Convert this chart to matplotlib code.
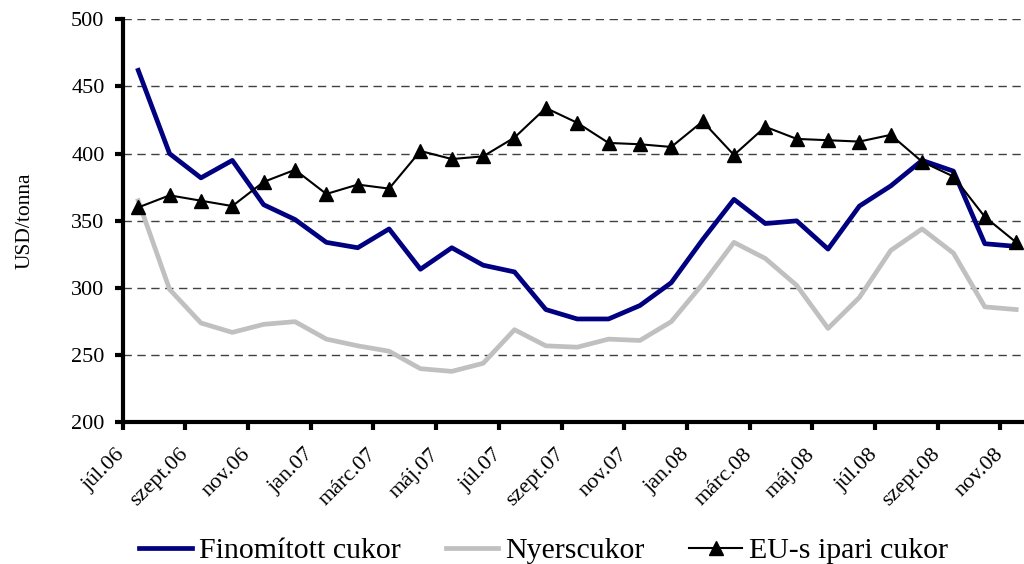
import numpy as np
import matplotlib.pyplot as plt

plt.rcParams['font.family'] = ['Liberation Serif', 'DejaVu Serif']

# havi adatok, júl.06 - nov.08
finomitott = [462, 400, 382, 395, 362, 351, 334, 330, 344, 314, 330, 317, 312, 284, 277,
              277, 287, 304, 336, 366, 348, 350, 329, 361, 376, 395, 387, 333, 331]
nyers = [365, 299, 274, 267, 273, 275, 262, 257, 253, 240, 238, 244, 269, 257, 256,
         262, 261, 275, 303, 334, 322, 302, 270, 293, 328, 344, 326, 286, 284]
eu_ipari = [360, 369, 365, 361, 379, 388, 370, 377, 374, 402, 396, 398, 412, 434, 423,
            408, 407, 405, 424, 399, 420, 411, 410, 409, 414, 394, 383, 353, 334]
tick_labels = ['júl.06', 'szept.06', 'nov.06', 'jan.07', 'márc.07', 'máj.07', 'júl.07',
               'szept.07', 'nov.07', 'jan.08', 'márc.08', 'máj.08', 'júl.08', 'szept.08', 'nov.08']

fig = plt.figure(figsize=(10.24, 5.64), dpi=100)
ax = fig.add_axes([0.1197, 0.251, 0.8803, 0.7148])

x = np.arange(len(finomitott))
ax.plot(x, finomitott, color='#000080', lw=3.4, label='Finomított cukor', zorder=3)
ax.plot(x, nyers, color='#C0C0C0', lw=3.4, label='Nyerscukor', zorder=2)
ax.plot(x, eu_ipari, color='black', lw=1.5, marker='^', markersize=10,
        label='EU-s ipari cukor', zorder=4)

ax.set_ylim(200, 500)
ax.set_yticks(range(200, 501, 50))
ax.set_xlim(-0.5, 28.25)
ax.set_xticks(np.arange(-0.5, 28.5, 2))
ax.set_xticklabels(tick_labels, rotation=45, ha='right', va='center', rotation_mode='anchor')

# szaggatott rácsvonalak
for yv in range(250, 501, 50):
    ax.axhline(yv, color='#404040', lw=1, ls=(0, (6, 4)), zorder=1)

for s in ['top', 'right']:
    ax.spines[s].set_visible(False)
for s in ['left', 'bottom']:
    ax.spines[s].set_linewidth(3)
ax.tick_params(axis='both', length=6, width=3, labelsize=16)
ax.tick_params(axis='y', pad=7)
ax.tick_params(axis='x', pad=15)
ax.set_ylabel('USD/tonna', fontsize=15.5)
ax.yaxis.set_label_coords(-0.098, 0.5)

fig.legend(loc='center', bbox_to_anchor=(0.531, 0.023), ncol=3, frameon=False,
           fontsize=21.5, handlelength=1.75, handletextpad=0.25, columnspacing=1.5,
           borderpad=0, borderaxespad=0)

fig.savefig('out.png', dpi=100)
